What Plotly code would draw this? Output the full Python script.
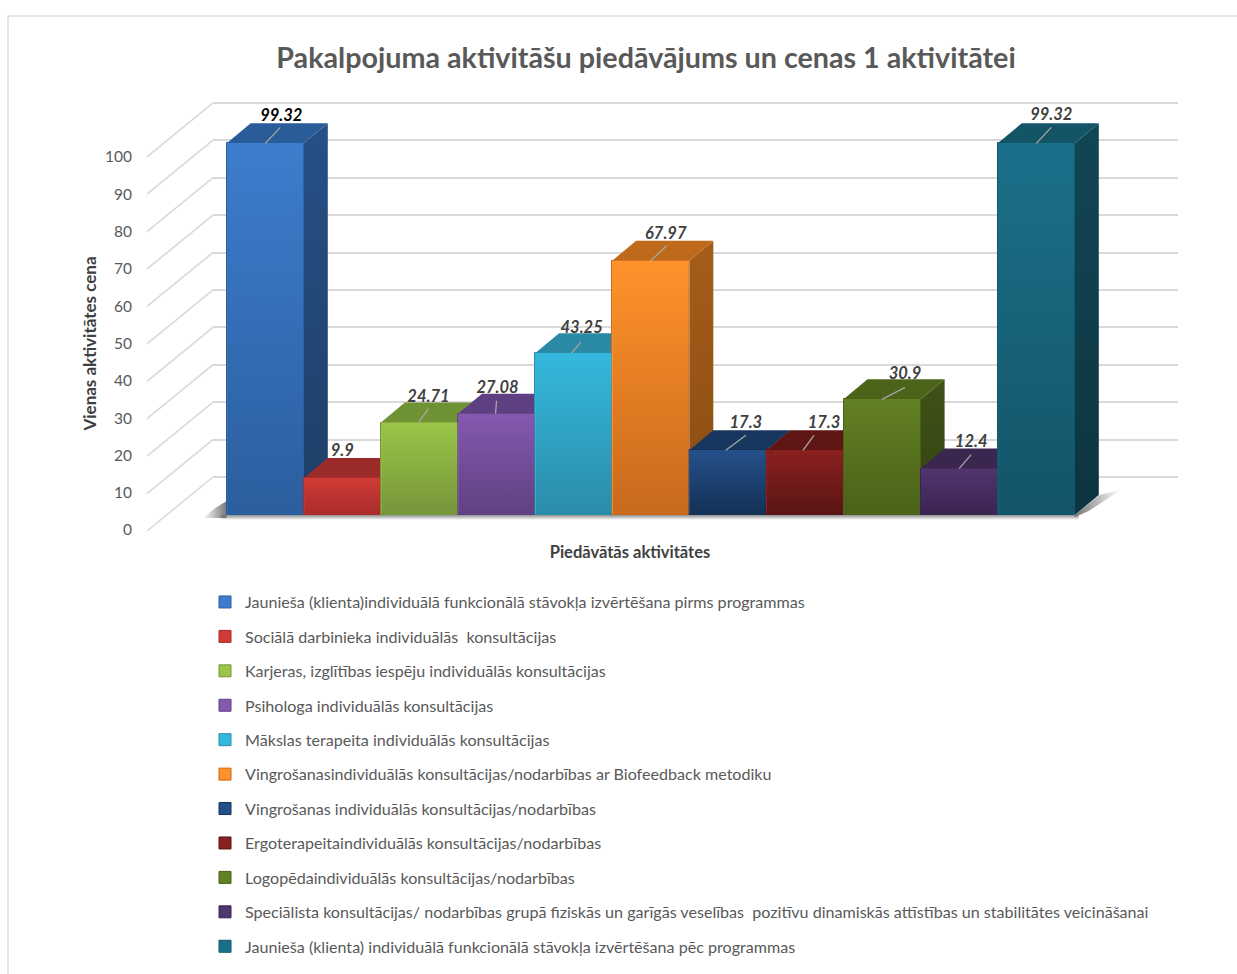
import plotly.graph_objects as go

title_text = "Pakalpojuma aktivitāšu piedāvājums un cenas 1 aktivitātei"
y_title = "Vienas aktivitātes cena"
x_title = "Piedāvātās aktivitātes"

categories = [
    "Jaunieša (klienta)individuālā funkcionālā stāvokļa izvērtēšana pirms programmas",
    "Sociālā darbinieka individuālās  konsultācijas",
    "Karjeras, izglītības iespēju individuālās konsultācijas",
    "Psihologa individuālās konsultācijas",
    "Mākslas terapeita individuālās konsultācijas",
    "Vingrošanasindividuālās konsultācijas/nodarbības ar Biofeedback metodiku",
    "Vingrošanas individuālās konsultācijas/nodarbības",
    "Ergoterapeitaindividuālās konsultācijas/nodarbības",
    "Logopēdaindividuālās konsultācijas/nodarbības",
    "Speciālista konsultācijas/ nodarbības grupā fiziskās un garīgās veselības  pozitīvu dinamiskās attīstības un stabilitātes veicināšanai",
    "Jaunieša (klienta) individuālā funkcionālā stāvokļa izvērtēšana pēc programmas",
]
values = [99.32, 9.9, 24.71, 27.08, 43.25, 67.97, 17.3, 17.3, 30.9, 12.4, 99.32]
value_labels = ["99.32", "9.9", "24.71", "27.08", "43.25", "67.97", "17.3", "17.3", "30.9", "12.4", "99.32"]
ticks = list(range(0, 101, 10))

front_top = ["#3C7DCD", "#D13A36", "#9AC548", "#8459B0", "#35B8DE", "#FF922B", "#24508A", "#8A2020", "#628024", "#50356F", "#1B7089"]
front_bot = ["#2C5E9E", "#A82C2B", "#75953A", "#5F4180", "#2A8CA8", "#C8691D", "#143055", "#5A1414", "#4A6118", "#3A2450", "#125468"]
top_face = ["#2A5C9A", "#9A2B29", "#6F9234", "#5E3F82", "#2A8AA6", "#BE6A1A", "#17375F", "#611616", "#4C6419", "#3B2650", "#135567"]
side_top = ["#265087", "#8A2624", "#5F7D2C", "#52376F", "#24778F", "#A55D1A", "#143050", "#521212", "#3F5217", "#33204A", "#124655"]
side_bot = ["#1E3F66", "#6E1E1C", "#4C6423", "#402B58", "#1C5F72", "#8A4C12", "#0F243E", "#3E0E0E", "#334213", "#281A3A", "#0D3440"]
label_colors = ["#000000"] + ["#404040"] * 10

# label and leader placement, in pixels relative to the bar's top-front centre
leader_start_dx = [0, None, -1, -1, -2, 0, -2, -2, 0, 0, 0]
leader_end_dx = [15, None, 9, 0, 7, 16, 18, 9, 23, 12, 15]
leader_end_dy = [16, None, 14, 13, 11, 15, 15, 15, 12, 14, 16]
label_dx = [16, 0, 9, 1, 8, 15, 18, 19, 23, 12, 15]
label_dy = [26, 26, 25, 25, 24, 26, 26, 26, 24, 26, 27]

W, H = 1237, 974
BAR_LEFT, BAR_W, BASE_PX, UNIT = 226.7, 77.1, 515.0, 3.742
DEPTH_X, DEPTH_Y = 24 / BAR_W, 20 / UNIT
WALL_PAD = 0.5  # value units beyond 0 and 100, so that both end gridlines are drawn


def xdata(px):
    return (px - BAR_LEFT) / BAR_W - 0.5


def dom_y(px_bottom, px_top):
    return [1 - px_bottom / H, 1 - px_top / H]


page_x = [xdata(0), xdata(W)]
page_y = [(BASE_PX - H) / UNIT, BASE_PX / UNIT]
font = "Lato, Carlito, Calibri, sans-serif"
fig = go.Figure()

# holder for the back-wall subplot, whose axis draws the gridlines
fig.add_trace(go.Scatter(x=[0], y=[0], mode="markers", marker=dict(opacity=0), xaxis="x", yaxis="y",
                         showlegend=False, hoverinfo="skip"))

# diagonal wall edges
for t in ticks:
    yf = t - 16 / UNIT
    fig.add_trace(go.Scatter(
        x=[xdata(147), xdata(213)], y=[yf, yf + 54 / UNIT], mode="lines", xaxis="x2", yaxis="y2",
        line=dict(color="#D9D9D9", width=1.6), showlegend=False, hoverinfo="skip"))

# floor shadow
right_end = BAR_LEFT + BAR_W * len(values)
fig.add_trace(go.Scatter(
    x=[xdata(BAR_LEFT - 6), xdata(right_end + 4), xdata(right_end + 4), xdata(BAR_LEFT - 6)],
    y=[0, 0, -5 / UNIT, -5 / UNIT], mode="lines", fill="toself", xaxis="x2", yaxis="y2", line=dict(width=0),
    fillgradient=dict(type="vertical", colorscale=[[0, "rgba(130,130,130,0)"], [1, "rgba(130,130,130,0.9)"]]),
    showlegend=False, hoverinfo="skip"))
fig.add_trace(go.Scatter(
    x=[xdata(203), xdata(BAR_LEFT), xdata(BAR_LEFT), xdata(BAR_LEFT - 10)],
    y=[-3 / UNIT, -3 / UNIT, 14 / UNIT, 8 / UNIT], mode="lines", fill="toself", xaxis="x2", yaxis="y2", line=dict(width=0),
    fillgradient=dict(type="horizontal", colorscale=[[0, "rgba(110,110,110,0)"], [1, "rgba(110,110,110,0.95)"]]),
    showlegend=False, hoverinfo="skip"))
fig.add_trace(go.Scatter(
    x=[xdata(right_end), xdata(right_end + 25), xdata(right_end + 46), xdata(right_end + 14), xdata(right_end)],
    y=[0, 20 / UNIT, 25 / UNIT, 4 / UNIT, -2 / UNIT], mode="lines", fill="toself", xaxis="x2", yaxis="y2", line=dict(width=0),
    fillgradient=dict(type="horizontal", colorscale=[[0, "rgba(110,110,110,0.95)"], [1, "rgba(110,110,110,0)"]]),
    showlegend=False, hoverinfo="skip"))

# side and top faces, painted left to right
for i, v in enumerate(values):
    l, r = i - 0.5, i + 0.5
    fig.add_trace(go.Scatter(
        x=[r, r + DEPTH_X, r + DEPTH_X, r, r], y=[v, v + DEPTH_Y, DEPTH_Y, 0, v],
        mode="lines", fill="toself", xaxis="x2", yaxis="y2", line=dict(width=0),
        fillgradient=dict(type="vertical", colorscale=[[0, side_bot[i]], [1, side_top[i]]]),
        showlegend=False, hoverinfo="skip"))
    fig.add_trace(go.Scatter(
        x=[l, r, r + DEPTH_X, l + DEPTH_X, l], y=[v, v, v + DEPTH_Y, v + DEPTH_Y, v],
        mode="lines", fill="toself", xaxis="x2", yaxis="y2", line=dict(width=0), fillcolor=top_face[i],
        showlegend=False, hoverinfo="skip"))

# bar fronts
for i, (name, v) in enumerate(zip(categories, values)):
    fig.add_trace(go.Bar(
        x=[i], y=[v], name=name, width=1.0, xaxis="x3", yaxis="y3", legendgroup=f"g{i}",
        marker=dict(color=front_top[i], line=dict(width=1, color=front_bot[i])), hoverinfo="skip"))
for i, v in enumerate(values):
    l, r = i - 0.5 + 0.008, i + 0.5 - 0.008
    fig.add_trace(go.Scatter(
        x=[l, r, r, l, l], y=[0, 0, v, v, 0], mode="lines", fill="toself", xaxis="x3", yaxis="y3",
        line=dict(width=0),
        fillgradient=dict(type="vertical", colorscale=[[0, front_bot[i]], [1, front_top[i]]]),
        showlegend=False, hoverinfo="skip"))

# leaders and value labels
for i, v in enumerate(values):
    if leader_start_dx[i] is None:
        continue
    fig.add_trace(go.Scatter(
        x=[i + leader_start_dx[i] / BAR_W, i + leader_end_dx[i] / BAR_W],
        y=[v, v + leader_end_dy[i] / UNIT], mode="lines", xaxis="x3", yaxis="y3",
        line=dict(color="#A6A6A6", width=1.3), showlegend=False, hoverinfo="skip"))
fig.add_trace(go.Scatter(
    x=[i + label_dx[i] / BAR_W for i in range(len(values))],
    y=[v + label_dy[i] / UNIT for i, v in enumerate(values)],
    text=value_labels, mode="text", xaxis="x3", yaxis="y3", textposition="middle center",
    textfont=dict(family=font, size=16.5, color=label_colors, weight=700, style="italic"),
    showlegend=False, hoverinfo="skip"))

# holder for the labelled value axis
fig.add_trace(go.Scatter(x=[0], y=[0], mode="markers", marker=dict(opacity=0), xaxis="x4", yaxis="y4",
                         showlegend=False, hoverinfo="skip"))

hidden = dict(visible=False, fixedrange=True)
fig.update_layout(
    width=W, height=H, autosize=False, margin=dict(l=0, r=0, t=0, b=0, pad=0, autoexpand=False),
    paper_bgcolor="white", plot_bgcolor="rgba(0,0,0,0)", barmode="overlay", bargap=0,
    font=dict(family=font, color="#595959"),
    title=dict(text=title_text, x=646 / W, xanchor="center", y=1 - 58 / H, yanchor="middle",
               font=dict(family=font, size=28.7, color="#595959", weight=700)),
    # back wall with its gridlines
    xaxis=dict(domain=[213 / W, 1178 / W], range=[0, 1], showgrid=False, zeroline=False,
               showticklabels=False, ticks="", anchor="y", fixedrange=True),
    yaxis=dict(domain=dom_y(477 + WALL_PAD * 3.74, 103 - WALL_PAD * 3.74), range=[-WALL_PAD, 100 + WALL_PAD],
               tick0=0, dtick=10, showgrid=True,
               gridcolor="#D9D9D9", gridwidth=1.6, zeroline=False, showticklabels=False,
               ticks="", anchor="x", fixedrange=True),
    # page-wide planes for the depth faces and the bar fronts
    xaxis2=dict(domain=[0, 1], range=page_x, anchor="y2", **hidden),
    yaxis2=dict(domain=[0, 1], range=page_y, anchor="x2", **hidden),
    xaxis3=dict(domain=[0, 1], range=page_x, anchor="y3", **hidden),
    yaxis3=dict(domain=[0, 1], range=page_y, anchor="x3", **hidden),
    # labelled axis at the front edge of the floor
    xaxis4=dict(domain=[133 / W, 1127 / W], range=[0, 1], anchor="y4", showgrid=False, zeroline=False,
                showticklabels=False, ticks="", showline=False, fixedrange=True,
                title=dict(text=x_title, standoff=16, font=dict(family=font, size=16.5, color="#404040", weight=700))),
    yaxis4=dict(domain=dom_y(530, 157), range=[0, 100], tick0=0, dtick=10, anchor="x4", showgrid=False,
                zeroline=False, showline=False, ticks="", fixedrange=True,
                tickfont=dict(family=font, size=15.5, color="#595959"),
                title=dict(text=y_title, standoff=4, font=dict(family=font, size=17, color="#404040", weight=700))),
    legend=dict(x=205 / W, xanchor="left", y=1 - 585 / H, yanchor="top", orientation="v",
                traceorder="grouped", tracegroupgap=10.5, bgcolor="rgba(0,0,0,0)",
                font=dict(family=font, size=16.1, color="#595959")),
    shapes=[dict(type="rect", xref="paper", yref="paper", x0=8 / W, x1=1.01, y0=-0.01, y1=1 - 16 / H,
                 line=dict(color="#DDDDDD", width=1.5), layer="below")],
)
fig.write_html("out.html", config={"displayModeBar": False},
               post_script="document.body.style.margin='0';document.body.style.overflow='hidden';")
